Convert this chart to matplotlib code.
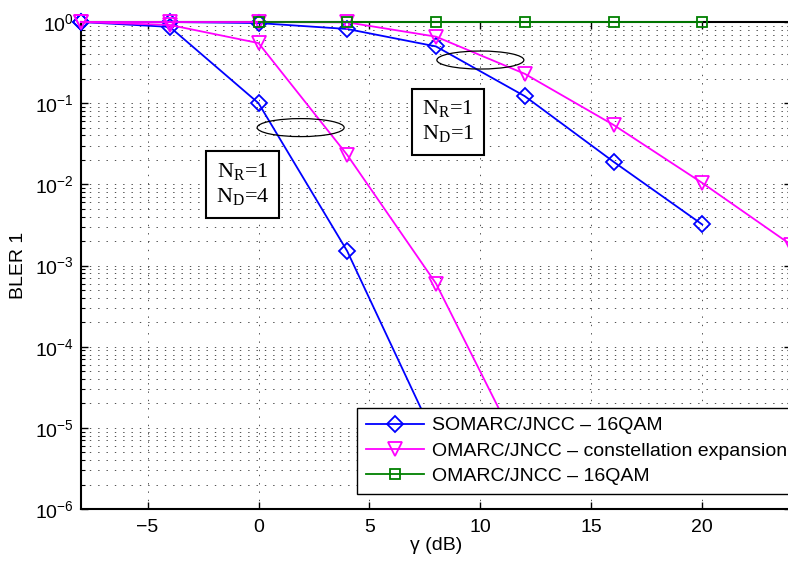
import matplotlib
matplotlib.use("Agg")
import matplotlib.pyplot as plt
from matplotlib.patches import Ellipse
from matplotlib.transforms import ScaledTranslation

plt.rcParams['font.family'] = 'Liberation Sans'
plt.rcParams['lines.scale_dashes'] = False

# valores (BLER vs gamma en dB)
snr = [-8, -4, 0, 4, 8, 12, 16, 20, 24]
snr_16qam = [0, 4, 8, 12, 16, 20]

# caso N_R=1, N_D=4
somarc_nd4 = [1.0, 0.87, 0.1, 1.5e-3, 7e-6]
omarc_ce_nd4 = [1.0, 0.92, 0.55, 0.023, 6e-4, 4e-6]

# caso N_R=1, N_D=1
somarc_nd1 = [1.0, 1.0, 0.97, 0.82, 0.5, 0.122, 0.019, 0.0032]
omarc_ce_nd1 = [1.0, 1.0, 1.0, 0.99, 0.66, 0.23, 0.054, 0.0104, 0.0018]

omarc_16qam = [1.0, 1.0, 1.0, 1.0, 1.0, 1.0]

labels = ['SOMARC/JNCC – 16QAM',
          'OMARC/JNCC – constellation expansion',
          'OMARC/JNCC – 16QAM']

fig = plt.figure(figsize=(7.88, 5.62), dpi=100)
ax = fig.add_axes([81 / 788, 53 / 562, 710 / 788, 487 / 562])

estilo = dict(lw=1.3, mew=1.3, mfc='none', clip_on=False, zorder=3)
ax.plot(snr[:len(somarc_nd4)], somarc_nd4, color='blue', marker='D', ms=8, label=labels[0], **estilo)
ax.plot(snr[:len(somarc_nd1)], somarc_nd1, color='blue', marker='D', ms=8, **estilo)
ax.plot(snr[:len(omarc_ce_nd4)], omarc_ce_nd4, color='magenta', marker='v', ms=10, label=labels[1], **estilo)
ax.plot(snr[:len(omarc_ce_nd1)], omarc_ce_nd1, color='magenta', marker='v', ms=10, **estilo)
ax.plot(snr_16qam, omarc_16qam, color='#008000', marker='s', ms=7, label=labels[2], **estilo)

ax.set_yscale('log')
ax.set_xlim(-8, 24)
ax.set_ylim(1e-6, 1)
ax.set_xticks([-5, 0, 5, 10, 15, 20])

punteado = (0, (1, 5))
ax.grid(True, which='major', axis='x', color='#333333', lw=0.6, ls=punteado)
ax.grid(True, which='both', axis='y', color='#333333', lw=0.6, ls=punteado)
ax.set_axisbelow(True)

ax.tick_params(which='both', direction='in', top=True, right=True, labelsize=14)
ax.tick_params(which='major', length=5, width=1)
ax.tick_params(which='minor', length=3, width=0.8)
ax.tick_params(axis='x', pad=7)
ax.tick_params(axis='y', pad=5)
for s in ax.spines.values():
    s.set_linewidth(1.5)

ax.set_xlabel('γ (dB)', fontsize=14, labelpad=1)
ax.set_ylabel('BLER 1', fontsize=14, labelpad=6)

# elipses y cajas de texto
def elipse(x, y):
    tr = fig.dpi_scale_trans + ScaledTranslation(x, y, ax.transData)
    ax.add_patch(Ellipse((0, 0), 0.87, 0.18, transform=tr, fill=False,
                         ec='black', lw=0.9, zorder=4))

elipse(1.9, 0.05)
elipse(10.0, 0.34)

caja = dict(boxstyle='square,pad=0.45', fc='white', ec='black', lw=1.5)
ax.text(-0.72, 0.01, 'N$_\\mathregular{R}$=1\nN$_\\mathregular{D}$=4', ha='center', va='center',
        fontfamily='Liberation Serif', fontsize=16, bbox=caja, zorder=6)
ax.text(8.55, 0.059, 'N$_\\mathregular{R}$=1\nN$_\\mathregular{D}$=1', ha='center', va='center',
        fontfamily='Liberation Serif', fontsize=16, bbox=caja, zorder=6)

leg = ax.legend(loc='upper left', bbox_to_anchor=(357 / 788, 1 - 408 / 562),
                bbox_transform=fig.transFigure, fontsize=14, fancybox=False,
                edgecolor='black', framealpha=1, borderaxespad=0,
                handlelength=3.0, handletextpad=0.4, labelspacing=0.4,
                borderpad=0.45)
leg.get_frame().set_linewidth(1.0)

fig.savefig('out.png', dpi=100)
